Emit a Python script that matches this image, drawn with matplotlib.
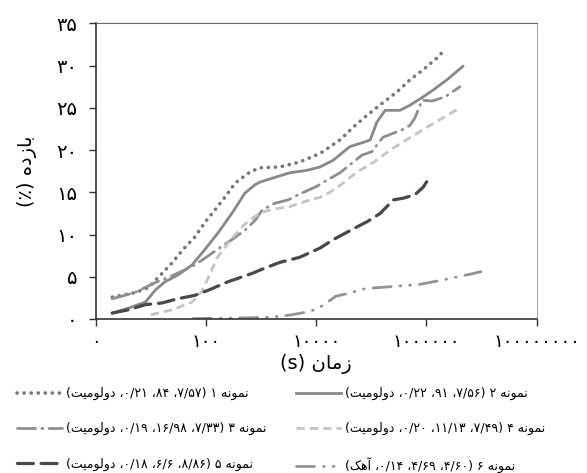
import matplotlib
matplotlib.use("Agg")
import matplotlib.pyplot as plt
import numpy as np

plt.rcParams['font.family'] = ['DejaVu Sans']

# time (s) and yield (%) for each sample
t1 = [2, 5, 9, 15, 24, 38, 63, 95, 145, 220, 340, 630, 950, 2200, 5100, 11800,
      27000, 47000, 83000, 162000, 295000, 500000, 870000, 1550000, 1900000]
y1 = [2.6, 3.1, 3.7, 5.2, 6.6, 8.2, 9.7, 11.4, 12.9, 14.4, 16.1, 17.4, 17.9, 18.0,
      18.6, 19.6, 21.2, 22.7, 24.1, 25.6, 26.9, 28.3, 29.5, 30.9, 31.5]

t2 = [2, 4, 8, 12, 18, 31, 56, 95, 166, 295, 510, 780, 950, 1660, 3300, 6800,
      11800, 20400, 40700, 70800, 95500, 126000, 178000, 331000, 500000, 832000,
      1320000, 2340000, 4570000]
y2 = [0.7, 1.3, 2.0, 3.4, 4.4, 5.2, 6.4, 8.2, 10.2, 12.5, 14.9, 15.9, 16.2, 16.7,
      17.3, 17.6, 18.0, 18.8, 20.4, 20.9, 21.2, 23.3, 24.7, 24.7, 25.3, 26.2, 27.1,
      28.3, 29.9]

t3 = [2, 5, 12, 24, 56, 96, 166, 297, 510, 780, 1050, 1780, 3100, 4700, 10200,
      14500, 27000, 67600, 102000, 162000, 363000, 500000, 617000, 832000,
      1260000, 2190000, 4070000]
y3 = [2.4, 3.1, 4.3, 5.1, 6.2, 7.2, 8.3, 9.4, 10.5, 11.7, 12.9, 13.7, 14.1, 14.7,
      15.7, 16.3, 17.3, 19.4, 19.8, 21.5, 22.4, 22.9, 23.8, 25.9, 25.8, 26.3, 27.5]

t4 = [10, 25, 56, 85, 112, 158, 282, 500, 794, 1120, 1660, 3300, 7760, 11800,
      17800, 30900, 55000, 107000, 245000, 1020000, 4070000]
y4 = [0.5, 1.1, 2.0, 3.3, 5.0, 7.2, 9.4, 11.2, 12.2, 12.7, 13.0, 13.3, 14.1, 14.4,
      15.0, 16.1, 17.4, 18.5, 20.2, 22.7, 25.0]

t5 = [2, 4, 8, 16, 31, 63, 110, 250, 690, 1050, 2190, 5000, 11800, 20400, 55000,
      83000, 145000, 251000, 380000, 617000, 871000, 1070000]
y5 = [0.7, 1.1, 1.7, 1.9, 2.4, 2.8, 3.4, 4.4, 5.4, 5.9, 6.7, 7.3, 8.4, 9.4, 10.9,
      11.5, 12.5, 14.1, 14.3, 14.7, 15.6, 16.5]

t6 = [59, 275, 1450, 3630, 7760, 11800, 22900, 36300, 77600, 200000, 759000,
      1900000, 6170000, 9770000]
y6 = [0.05, 0.1, 0.2, 0.5, 0.9, 1.4, 2.7, 3.0, 3.6, 3.8, 4.1, 4.6, 5.3, 5.6]

xticks = [1, 100, 10000, 1000000, 100000000]
xtick_labels = ['۰', '۱۰۰', '۱۰۰۰۰', '۱۰۰۰۰۰۰', '۱۰۰۰۰۰۰۰۰']
yticks = [0, 5, 10, 15, 20, 25, 30, 35]
ytick_labels = ['۰', '۵', '۱۰', '۱۵', '۲۰', '۲۵', '۳۰', '۳۵']

# contextual forms: isolated, final, initial, medial
FORMS = {
    'ا': ('\uFE8D', '\uFE8E', None, None),
    'آ': ('\uFE81', '\uFE82', None, None),
    'ب': ('\uFE8F', '\uFE90', '\uFE91', '\uFE92'),
    'ت': ('\uFE95', '\uFE96', '\uFE97', '\uFE98'),
    'د': ('\uFEA9', '\uFEAA', None, None),
    'ز': ('\uFEAF', '\uFEB0', None, None),
    'ل': ('\uFEDD', '\uFEDE', '\uFEDF', '\uFEE0'),
    'م': ('\uFEE1', '\uFEE2', '\uFEE3', '\uFEE4'),
    'ن': ('\uFEE5', '\uFEE6', '\uFEE7', '\uFEE8'),
    'ه': ('\uFEE9', '\uFEEA', '\uFEEB', '\uFEEC'),
    'و': ('\uFEED', '\uFEEE', None, None),
    'ی': ('\uFBFC', '\uFBFD', '\uFBFE', '\uFBFF'),
    'ک': ('\uFB8E', '\uFB8F', '\uFB90', '\uFB91'),
}


def fa(word):
    """Shape a Persian word and return it in visual (left-to-right) order."""
    out = []
    for i, ch in enumerate(word):
        f = FORMS[ch]
        joins_prev = i > 0 and FORMS[word[i - 1]][2] is not None
        joins_next = i < len(word) - 1 and f[2] is not None
        if joins_prev and joins_next:
            out.append(f[3])
        elif joins_prev:
            out.append(f[1])
        elif joins_next:
            out.append(f[2])
        else:
            out.append(f[0])
    return ''.join(reversed(out))


def sample_label(n, a, b, c, rock):
    return '(' + fa(rock) + ' ،' + c + ' ،' + b + ' ،' + a + ') ' + n + ' ' + fa('نمونه')


labels = [
    sample_label('۱', '۷/۵۷', '۸۴', '۰/۲۱', 'دولومیت'),
    sample_label('۲', '۷/۵۶', '۹۱', '۰/۲۲', 'دولومیت'),
    sample_label('۳', '۷/۳۳', '۱۶/۹۸', '۰/۱۹', 'دولومیت'),
    sample_label('۴', '۷/۴۹', '۱۱/۱۳', '۰/۲۰', 'دولومیت'),
    sample_label('۵', '۸/۸۶', '۶/۶', '۰/۱۸', 'دولومیت'),
    sample_label('۶', '۴/۶۰', '۴/۶۹', '۰/۱۴', 'آهک'),
]

fig = plt.figure(figsize=(5.87, 4.73), dpi=100)
ax = fig.add_axes([0.163, 0.3256, 0.7513, 0.6251])

l1, = ax.plot(t1, y1, color='#777777', lw=2.6, linestyle=(0, (0.05, 1.9)),
              dash_capstyle='round')
l2, = ax.plot(t2, y2, color='#888888', lw=2.0)
l3, = ax.plot(t3, y3, color='#8e8e8e', lw=2.0, linestyle=(0, (6.5, 2.3, 0.3, 2.3)),
              dash_capstyle='round')
l4, = ax.plot(t4, y4, color='#c4c4c4', lw=2.0, linestyle=(0, (3.0, 1.8)))
l5, = ax.plot(t5, y5, color='#484848', lw=2.3, linestyle=(0, (5.0, 2.4)),
              dash_capstyle='round')
l6, = ax.plot(t6, y6, color='#939393', lw=2.0,
              linestyle=(0, (6.5, 3.2, 0.3, 3.2, 0.3, 3.2)), dash_capstyle='round')

ax.set_xscale('log')
ax.set_xlim(1, 100000000)
ax.set_ylim(0, 35)
ax.set_xticks(xticks)
ax.set_xticklabels(xtick_labels, fontsize=13)
ax.xaxis.set_minor_locator(matplotlib.ticker.NullLocator())
ax.set_yticks(yticks)
ax.set_yticklabels(ytick_labels, fontsize=14)
ax.tick_params(axis='both', direction='out', length=5, width=1, color='#333333')
ax.tick_params(axis='x', pad=5)
ax.tick_params(axis='y', pad=8)

for side in ['left', 'bottom']:
    ax.spines[side].set_color('#333333')
    ax.spines[side].set_linewidth(1.2)
ax.spines['top'].set_color('#666666')
ax.spines['right'].set_color('#aaaaaa')

ax.set_xlabel('(s) ' + fa('زمان'), fontsize=14, labelpad=2)
ax.set_ylabel('(٪) ' + fa('بازده'), fontsize=14, labelpad=14)

handles = [l1, l3, l5, l2, l4, l6]
order = [0, 2, 4, 1, 3, 5]
fig.legend(handles, [labels[i] for i in order], ncol=2, frameon=False,
           loc='upper left', bbox_to_anchor=(0.01, 0.205), fontsize=9,
           handlelength=3.6, handletextpad=0.3, columnspacing=2.4,
           labelspacing=1.75)

fig.savefig('out.png', dpi=100)
